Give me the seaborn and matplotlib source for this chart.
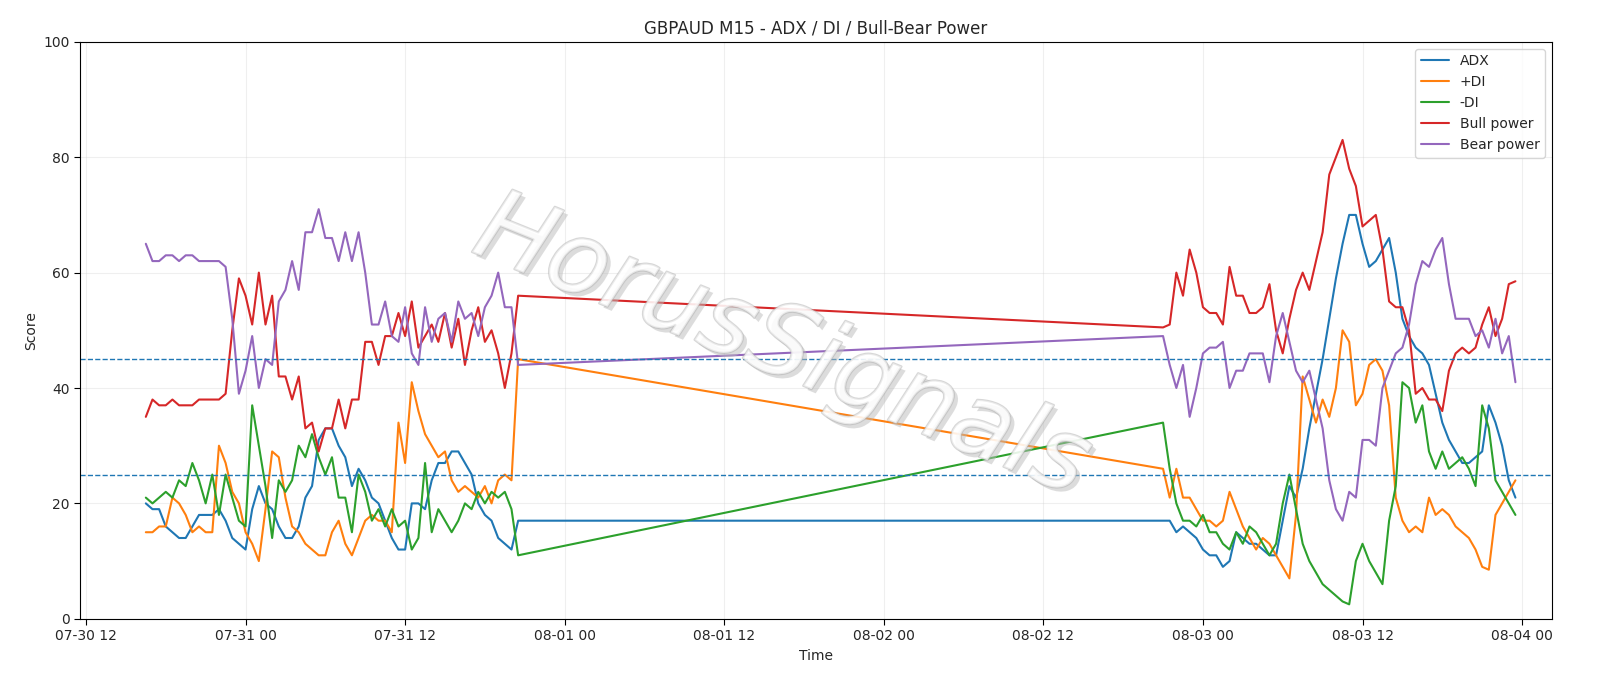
import numpy as np
import pandas as pd
import matplotlib
matplotlib.use("Agg")
import matplotlib.pyplot as plt
import matplotlib.dates as mdates
import matplotlib.patheffects as pe
import seaborn as sns

# =========================
# DATA (30-min steps)
# =========================
seg1_start = "2025-07-30 16:30"
seg2_start = "2025-08-02 21:00"

adx_1 = [20, 19, 19, 16, 15, 14, 14, 16, 18, 18, 18, 19, 17, 14, 13, 12, 19, 23, 20, 19, 16, 14, 14, 16, 21, 23, 31,
         33, 33, 30, 28, 23, 26, 24, 21, 20, 17, 14, 12, 12, 20, 20, 19, 24, 27, 27, 29, 29, 27, 25, 20, 18, 17, 14, 13, 12, 17]
pdi_1 = [15, 15, 16, 16, 21, 20, 18, 15, 16, 15, 15, 30, 27, 22, 20, 15, 13, 10, 19, 29, 28, 21, 16, 15, 13, 12, 11,
         11, 15, 17, 13, 11, 14, 17, 18, 17, 17, 15, 34, 27, 41, 36, 32, 30, 28, 29, 24, 22, 23, 22, 21, 23, 20, 24, 25, 24, 45]
mdi_1 = [21, 20, 21, 22, 21, 24, 23, 27, 24, 20, 25, 18, 25, 21, 17, 16, 37, 30, 23, 14, 24, 22, 24, 30, 28, 32, 28,
         25, 28, 21, 21, 15, 25, 22, 17, 19, 16, 19, 16, 17, 12, 14, 27, 15, 19, 17, 15, 17, 20, 19, 22, 20, 22, 21, 22, 19, 11]
bull_1 = [35, 38, 37, 37, 38, 37, 37, 37, 38, 38, 38, 38, 39, 50, 59, 56, 51, 60, 51, 56, 42, 42, 38, 42, 33, 34, 29,
          33, 33, 38, 33, 38, 38, 48, 48, 44, 49, 49, 53, 49, 55, 47, 49, 51, 48, 53, 47, 52, 44, 50, 54, 48, 50, 46, 40, 46, 56]
bear_1 = [65, 62, 62, 63, 63, 62, 63, 63, 62, 62, 62, 62, 61, 52, 39, 43, 49, 40, 45, 44, 55, 57, 62, 57, 67, 67, 71,
          66, 66, 62, 67, 62, 67, 60, 51, 51, 55, 49, 48, 54, 46, 44, 54, 48, 52, 53, 48, 55, 52, 53, 49, 54, 56, 60, 54, 54, 44]

adx_2 = [17, 17, 15, 16, 15, 14, 12, 11, 11, 9, 10, 15, 14, 13, 13, 12, 11, 11, 17, 23, 21,
         26, 33, 39, 45, 52, 59, 65, 70, 70, 65, 61, 62, 64, 66, 60, 52, 49, 47, 46, 44, 39, 34, 31, 29, 27, 27, 28, 29, 37,
         34, 30, 24, 21]
pdi_2 = [26, 21, 26, 21, 21, 19, 17, 17, 16, 17, 22, 19, 16, 14, 12, 14, 13, 11, 9, 7, 18,
         42, 38, 34, 38, 35, 40, 50, 48, 37, 39, 44, 45, 43, 37, 21, 17, 15, 16, 15, 21, 18, 19, 18, 16, 15, 14, 12, 9, 8.5,
         18, 20, 22, 24]
mdi_2 = [34, 26, 20, 17, 17, 16, 18, 15, 15, 13, 12, 15, 13, 16, 15, 13, 11, 13, 20, 25, 19,
         13, 10, 8, 6, 5, 4, 3, 2.5, 10, 13, 10, 8, 6, 17, 23, 41, 40, 34, 37, 29, 26, 29, 26, 27, 28, 26, 23, 37, 33,
         24, 22, 20, 18]
bull_2 = [50.5, 51, 60, 56, 64, 60, 54, 53, 53, 51, 61, 56, 56, 53, 53, 54, 58, 50, 46, 52, 57,
          60, 57, 62, 67, 77, 80, 83, 78, 75, 68, 69, 70, 64, 55, 54, 54, 50, 39, 40, 38, 38, 36, 43, 46, 47, 46, 47, 51, 54,
          49, 52, 58, 58.5]
bear_2 = [49, 44, 40, 44, 35, 40, 46, 47, 47, 48, 40, 43, 43, 46, 46, 46, 41, 49, 53, 48, 43,
          41, 43, 38, 33, 24, 19, 17, 22, 21, 31, 31, 30, 40, 43, 46, 47, 51, 58, 62, 61, 64, 66, 58, 52, 52, 52, 49, 50, 47,
          52, 46, 49, 41]

labels = ["ADX", "+DI", "-DI", "Bull power", "Bear power"]
seg1 = [adx_1, pdi_1, mdi_1, bull_1, bear_1]
seg2 = [adx_2, pdi_2, mdi_2, bull_2, bear_2]

t1 = pd.date_range(seg1_start, periods=len(adx_1), freq="30min")
t2 = pd.date_range(seg2_start, periods=len(adx_2), freq="30min")
times = t1.append(t2)

df = pd.DataFrame({"Time": times})
for name, a, b in zip(labels, seg1, seg2):
    df[name] = list(a) + list(b)

long_df = df.melt(id_vars="Time", var_name="series", value_name="Score")

# =========================
# PLOT
# =========================
sns.set_style("white")
fig, ax = plt.subplots(figsize=(16, 6.86), dpi=100)
fig.subplots_adjust(left=0.05, right=0.97, top=0.939, bottom=0.098)

sns.lineplot(data=long_df, x="Time", y="Score", hue="series", hue_order=labels,
             palette=sns.color_palette("tab10")[:5], linewidth=1.5, ax=ax, sort=False,
             estimator=None)

ax.axhline(25, color="#1f77b4", linestyle="--", linewidth=1)
ax.axhline(45, color="#1f77b4", linestyle="--", linewidth=1)

ax.set_ylim(0, 100)
ax.set_xlim(pd.Timestamp("2025-07-30 11:33"), pd.Timestamp("2025-08-04 02:15"))
ax.xaxis.set_major_locator(mdates.HourLocator(byhour=[0, 12]))
ax.xaxis.set_major_formatter(mdates.DateFormatter("%m-%d %H"))
ax.grid(True, alpha=0.3)
for s in ax.spines.values():
    s.set_color("black")
ax.tick_params(axis="both", length=4, color="black", labelsize=10, bottom=True, left=True)

ax.set_title("GBPAUD M15 - ADX / DI / Bull-Bear Power", fontsize=12)
ax.set_xlabel("Time")
ax.set_ylabel("Score")
ax.legend(loc="upper right", fontsize=10)

# watermark: hollow grey letters with a soft shadow
ax.text(0.477, 0.47, "HorusSignals", transform=ax.transAxes, fontsize=72,
        style="italic", color="white", alpha=0.5,
        rotation=-22, ha="center", va="center", zorder=5,
        path_effects=[pe.withSimplePatchShadow(offset=(3, -3), shadow_rgbFace="#bbbbbb", alpha=0.5),
                      pe.Stroke(linewidth=1.6, foreground="#b0b0b0"), pe.Normal()])

plt.savefig("out.png", dpi=100)
